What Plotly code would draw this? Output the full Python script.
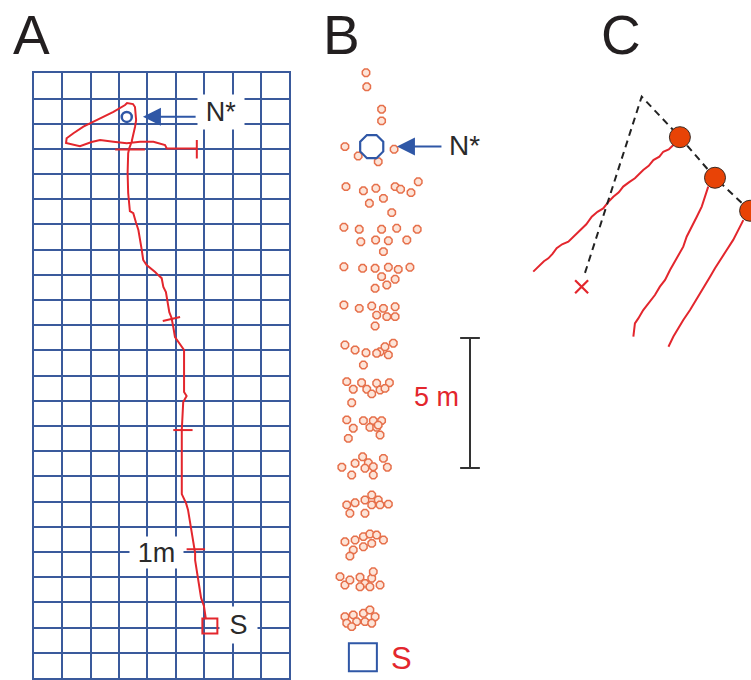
import plotly.graph_objects as go

W, H = 751, 680

# ---------------- Panel A : track on a 9 x 24 cell grid (cell units) ----------------
A_path_x = [6.06, 5.99, 5.89, 5.85, 5.78, 5.75, 5.68, 5.68, 5.61, 5.57, 5.50, 5.43, 5.36, 5.25, 5.21,
            5.21, 5.24, 5.26, 5.38, 5.29, 5.29, 5.24, 5.09, 4.97, 4.91, 4.85, 4.77, 4.70, 4.65, 4.56,
            4.50, 4.38, 4.27, 3.97, 3.85, 3.80, 3.68, 3.60, 3.50, 3.38, 3.32, 3.30, 3.32, 3.36, 3.44,
            3.56, 3.60, 3.56, 3.49, 3.28, 3.21, 2.80, 2.44, 2.09, 1.74, 1.39, 1.15, 1.13, 1.62, 2.03,
            2.33, 2.80, 3.27, 3.74, 4.21, 4.62, 4.68, 5.74]
A_path_y = [2.34, 2.86, 3.18, 3.49, 3.89, 4.29, 4.68, 4.96, 5.44, 5.87, 6.27, 6.67, 6.94, 7.18, 7.30,
            9.84, 10.52, 10.95, 11.19, 11.35, 13.02, 13.10, 13.29, 13.53, 13.93, 14.29, 14.52, 15.00, 15.32, 15.52,
            15.87, 15.99, 16.11, 16.39, 16.59, 16.98, 17.78, 18.06, 18.45, 18.53, 19.25, 20.04, 20.83, 21.03, 21.27,
            21.87, 22.14, 22.66, 22.78, 22.82, 22.74, 22.47, 22.27, 22.08, 21.88, 21.62, 21.42, 21.23, 21.11, 21.27,
            21.35, 21.28, 21.22, 21.28, 21.28, 21.15, 21.02, 21.02]

# distance ticks along the track (start / end points)
A_tick_x0 = [5.74, 2.86, 4.54, 4.91, 5.38]
A_tick_y0 = [20.62, 20.98, 14.17, 9.84, 5.11]
A_tick_x1 = [5.74, 3.91, 5.15, 5.59, 6.03]
A_tick_y1 = [21.35, 20.98, 14.33, 9.84, 5.11]

A_start = (6.20, 2.06)     # S
A_nest = (3.27, 22.27)     # N*
A_arrow_tip = (3.84, 22.28)
A_arrow_tail = (5.75, 22.28)
A_labels = ["N*", "1m", "S"]
A_label_x = [6.59, 4.32, 7.21]
A_label_y = [22.46, 4.98, 2.10]

# ---------------- Panel B : positions in metres ----------------
B_dot_x = [1.00, 1.03, 1.60, 1.60, 0.19, 0.70, 1.47, 2.08,
           0.23, 0.90, 1.38, 2.12, 2.33, 2.73, 3.01, 1.13, 1.67, 1.99,
           0.15, 0.74, 1.60, 2.18, 2.97, 0.80, 1.37, 1.86, 2.57, 1.67,
           0.15, 0.87, 1.35, 1.86, 2.24, 2.69, 1.60, 2.12, 1.80, 1.35,
           0.15, 0.74, 1.22, 1.67, 2.12, 1.41, 1.80, 2.12, 1.35,
           0.19, 0.58, 1.00, 1.54, 1.73, 2.05, 1.86, 0.90, 1.41,
           0.26, 0.51, 0.83, 1.03, 1.22, 1.41, 1.54, 1.90, 1.73, 0.45,
           0.26, 0.51, 0.90, 1.28, 1.60, 1.15, 1.41, 1.54, 0.32, 1.47,
           0.07, 0.58, 0.87, 1.09, 0.96, 1.28, 1.67, 1.82, 1.28, 0.45,
           0.26, 0.58, 0.96, 1.22, 1.47, 1.22, 1.54, 1.86, 0.38, 0.96,
           0.19, 0.58, 0.90, 1.15, 1.41, 1.67, 1.22, 0.90, 0.51, 0.38,
           0.00, 0.19, 0.38, 0.77, 0.96, 1.22, 1.28, 1.54, 0.77, 1.15,
           0.19, 0.51, 0.90, 1.15, 1.35, 0.26, 0.64, 0.96, 1.22, 0.45]
B_dot_y = [22.97, 22.43, 21.57, 21.12, 20.13, 19.77, 19.55, 20.03,
           18.59, 18.43, 18.53, 18.59, 18.49, 18.36, 18.78, 17.95, 18.14, 17.59,
           17.03, 16.95, 16.95, 16.99, 16.95, 16.47, 16.54, 16.51, 16.54, 16.09,
           15.51, 15.45, 15.45, 15.49, 15.41, 15.49, 15.13, 15.03, 14.81, 14.68,
           14.04, 13.91, 14.00, 13.91, 13.97, 13.65, 13.59, 13.59, 13.23,
           12.50, 12.31, 12.20, 12.24, 12.43, 12.57, 12.12, 11.73, 12.18,
           11.09, 10.80, 11.05, 10.80, 10.62, 11.03, 10.77, 11.05, 10.83, 10.28,
           9.62, 9.30, 9.59, 9.59, 9.59, 9.33, 9.33, 9.04, 8.91, 9.42,
           7.80, 7.95, 8.20, 7.97, 7.76, 7.82, 8.14, 7.80, 7.50, 7.50,
           6.35, 6.43, 6.54, 6.73, 6.54, 6.35, 6.35, 6.38, 6.03, 6.03,
           4.93, 5.00, 5.13, 5.23, 5.19, 5.00, 4.87, 4.74, 4.62, 4.38,
           3.59, 3.27, 3.46, 3.57, 3.33, 3.53, 3.78, 3.27, 3.20, 3.20,
           2.05, 2.12, 2.18, 2.31, 2.05, 1.80, 1.86, 1.86, 1.80, 1.67]
B_nest = (1.22, 20.13)
B_start = (0.88, 0.49)
B_arrow_tip = (2.19, 20.13)
B_arrow_tail = (3.96, 20.13)
B_bar_x = 5.0
B_bar_y0, B_bar_y1 = 7.77, 12.77   # 5 m scale bar
B_bar_half = 0.38

# ---------------- Panel C : arbitrary metres ----------------
C_line1_x = [5.90, 5.72, 5.51, 5.36, 5.13, 4.95, 4.74, 4.60, 4.42, 4.20, 3.97, 3.80, 3.59, 3.40, 3.20,
             2.98, 2.76, 2.55, 2.31, 2.10, 1.86, 1.62, 1.41, 1.25, 1.09, 0.92, 0.77, 0.62, 0.51]
C_line1_y = [8.27, 8.10, 8.01, 7.82, 7.69, 7.47, 7.31, 7.18, 6.99, 6.84, 6.67, 6.45, 6.28, 6.08, 5.83,
             5.70, 5.51, 5.22, 5.00, 4.80, 4.55, 4.45, 4.30, 4.08, 3.91, 3.80, 3.65, 3.47, 3.40]
C_line2_x = [7.24, 7.12, 6.99, 6.80, 6.60, 6.41, 6.28, 6.13, 5.96, 5.77, 5.58, 5.38, 5.19, 4.93, 4.74, 4.55, 4.42, 4.36]
C_line2_y = [6.67, 6.28, 5.90, 5.51, 5.13, 4.74, 4.36, 4.10, 3.78, 3.46, 3.08, 2.82, 2.50, 2.18, 1.92, 1.60, 1.41, 0.90]
C_line3_x = [8.59, 8.40, 8.20, 7.95, 7.69, 7.50, 7.31, 7.05, 6.80, 6.54, 6.28, 6.09, 5.90, 5.71]
C_line3_y = [5.38, 5.00, 4.62, 4.23, 3.85, 3.53, 3.20, 2.76, 2.31, 1.92, 1.54, 1.22, 0.90, 0.51]
C_dash_x = [2.50, 4.68, 6.15, 7.50, 8.85]
C_dash_y = [3.35, 10.13, 8.57, 7.01, 5.74]
C_dot_x = [6.15, 7.50, 8.85]
C_dot_y = [8.57, 7.01, 5.74]
C_cross = (2.37, 2.82)

panel_letters = ["A", "B", "C"]
panel_letter_px = [11, 321, 599]

# ---------------- styles ----------------
NAVY = "#3a5a9c"
ARROW = "#2f57a6"
RED = "#e3262d"
DOT = "#e6704b"
TXT = "#2a2a2a"
FONT = "Liberation Sans, Arial, sans-serif"
NARROW = "Liberation Sans Narrow, Arial Narrow, Liberation Sans, Arial, sans-serif"


def segs(x0, y0, x1, y1):
    xs, ys = [], []
    for a, b, c, d in zip(x0, y0, x1, y1):
        xs += [a, c, None]
        ys += [b, d, None]
    return xs, ys


fig = go.Figure()

# Panel A
fig.add_trace(go.Scatter(x=A_path_x, y=A_path_y, mode="lines", line=dict(color=RED, width=2),
                         xaxis="x", yaxis="y", hoverinfo="skip"))
tx, ty = segs(A_tick_x0, A_tick_y0, A_tick_x1, A_tick_y1)
fig.add_trace(go.Scatter(x=tx, y=ty, mode="lines", line=dict(color=RED, width=2),
                         xaxis="x", yaxis="y", hoverinfo="skip"))
fig.add_trace(go.Scatter(x=[A_start[0]], y=[A_start[1]], mode="markers",
                         marker=dict(symbol="square-open", size=15, color=RED, line=dict(width=2)),
                         xaxis="x", yaxis="y"))
fig.add_trace(go.Scatter(x=[A_nest[0]], y=[A_nest[1]], mode="markers",
                         marker=dict(symbol="circle-open", size=10, color=ARROW, line=dict(width=2.5)),
                         xaxis="x", yaxis="y"))

# Panel B
fig.add_trace(go.Scatter(x=B_dot_x, y=B_dot_y, mode="markers",
                         marker=dict(symbol="octagon", size=8, color="#fde4d8",
                                     line=dict(color=DOT, width=1.5)),
                         xaxis="x2", yaxis="y2"))
fig.add_trace(go.Scatter(x=[B_nest[0]], y=[B_nest[1]], mode="markers",
                         marker=dict(symbol="octagon-open", size=25, color=ARROW, line=dict(width=2.2)),
                         xaxis="x2", yaxis="y2"))
fig.add_trace(go.Scatter(x=[B_start[0]], y=[B_start[1]], mode="markers",
                         marker=dict(symbol="square-open", size=28, color=ARROW, line=dict(width=2)),
                         xaxis="x2", yaxis="y2"))
bx, by = segs([B_bar_x, B_bar_x - B_bar_half, B_bar_x - B_bar_half],
              [B_bar_y0, B_bar_y0, B_bar_y1],
              [B_bar_x, B_bar_x + B_bar_half, B_bar_x + B_bar_half],
              [B_bar_y1, B_bar_y0, B_bar_y1])
fig.add_trace(go.Scatter(x=bx, y=by, mode="lines", line=dict(color="#333333", width=2),
                         xaxis="x2", yaxis="y2"))

# Panel C
for cx, cy in [(C_line1_x, C_line1_y), (C_line2_x, C_line2_y), (C_line3_x, C_line3_y)]:
    fig.add_trace(go.Scatter(x=cx, y=cy, mode="lines", line=dict(color=RED, width=2),
                             xaxis="x3", yaxis="y3"))
fig.add_trace(go.Scatter(x=C_dash_x, y=C_dash_y, mode="lines",
                         line=dict(color="#222222", width=2, dash="7px,5px"),
                         xaxis="x3", yaxis="y3"))
fig.add_trace(go.Scatter(x=C_dot_x, y=C_dot_y, mode="markers",
                         marker=dict(symbol="circle", size=21, color="#e84306",
                                     line=dict(color="#3a2a22", width=1)),
                         xaxis="x3", yaxis="y3"))
fig.add_trace(go.Scatter(x=[C_cross[0]], y=[C_cross[1]], mode="markers",
                         marker=dict(symbol="x-thin-open", size=13, color=RED, line=dict(width=2.2, color=RED)),
                         xaxis="x3", yaxis="y3"))


def xdom(p0, p1):
    return [p0 / W, p1 / W]


def ydom(ptop, pbot):
    return [(H - pbot) / H, (H - ptop) / H]


hidden = dict(visible=False)
layout = dict(
    width=W, height=H, margin=dict(l=0, r=0, t=0, b=0),
    paper_bgcolor="white", plot_bgcolor="white", showlegend=False,
    xaxis=dict(domain=xdom(34, 289.3), range=[0, 9], dtick=1, tick0=0, showgrid=True,
               gridcolor=NAVY, gridwidth=2, zeroline=False, showticklabels=False, ticks="",
               showline=True, mirror=True, linecolor=NAVY, linewidth=2, fixedrange=True),
    yaxis=dict(domain=ydom(73.3, 678), range=[0, 24], dtick=1, tick0=0, showgrid=True,
               gridcolor=NAVY, gridwidth=2, zeroline=False, showticklabels=False, ticks="",
               showline=True, mirror=True, linecolor=NAVY, linewidth=2, fixedrange=True),
    xaxis2=dict(domain=xdom(330, 500), range=[-10 / 26, 160 / 26], anchor="y2", **hidden),
    yaxis2=dict(domain=ydom(60, 680), range=[-10 / 26, 610 / 26], anchor="x2", **hidden),
    xaxis3=dict(domain=xdom(520, 751), range=[0, 231 / 26], anchor="y3", **hidden),
    yaxis3=dict(domain=ydom(60, 360), range=[0, 300 / 26], anchor="x3", **hidden),
)
fig.update_layout(**layout)

ann = []
# Panel A labels with white boxes
box_w = [46, 53, 37]
box_h = [34, 31, 36]
for t, x, y, bw, bh in zip(A_labels, A_label_x, A_label_y, box_w, box_h):
    ann.append(dict(x=x, y=y, xref="x", yref="y", text=t, showarrow=False, bgcolor="white",
                    width=bw, height=bh, borderpad=0, font=dict(size=27, color=TXT, family=FONT)))
ann.append(dict(x=A_arrow_tip[0], y=A_arrow_tip[1], ax=A_arrow_tail[0], ay=A_arrow_tail[1],
                xref="x", yref="y", axref="x", ayref="y", text="", showarrow=True,
                arrowhead=2, arrowsize=1.8, arrowwidth=2, arrowcolor=ARROW))
# Panel B
ann.append(dict(x=B_arrow_tip[0], y=B_arrow_tip[1], ax=B_arrow_tail[0], ay=B_arrow_tail[1],
                xref="x2", yref="y2", axref="x2", ayref="y2", text="", showarrow=True,
                arrowhead=2, arrowsize=1.8, arrowwidth=2, arrowcolor=ARROW))
ann.append(dict(x=4.77, y=20.19, xref="x2", yref="y2", text="N*", showarrow=False,
                font=dict(size=28, color=TXT, family=FONT)))
ann.append(dict(x=3.73, y=10.5, xref="x2", yref="y2", text="5 m", showarrow=False,
                font=dict(size=27, color=RED, family=FONT)))
ann.append(dict(x=2.35, y=0.45, xref="x2", yref="y2", text="S", showarrow=False,
                font=dict(size=31, color=RED, family=NARROW)))
# panel letters
for t, px in zip(panel_letters, panel_letter_px):
    ann.append(dict(x=px / W, y=(H - 35) / H, xref="paper", yref="paper", text=t, showarrow=False,
                    xanchor="left", yanchor="middle", font=dict(size=55, color="#231f20", family=NARROW)))
fig.update_layout(annotations=ann)

fig.write_html("out.html", config={"displayModeBar": False, "staticPlot": True},
               post_script="document.body.style.margin='0px';")
